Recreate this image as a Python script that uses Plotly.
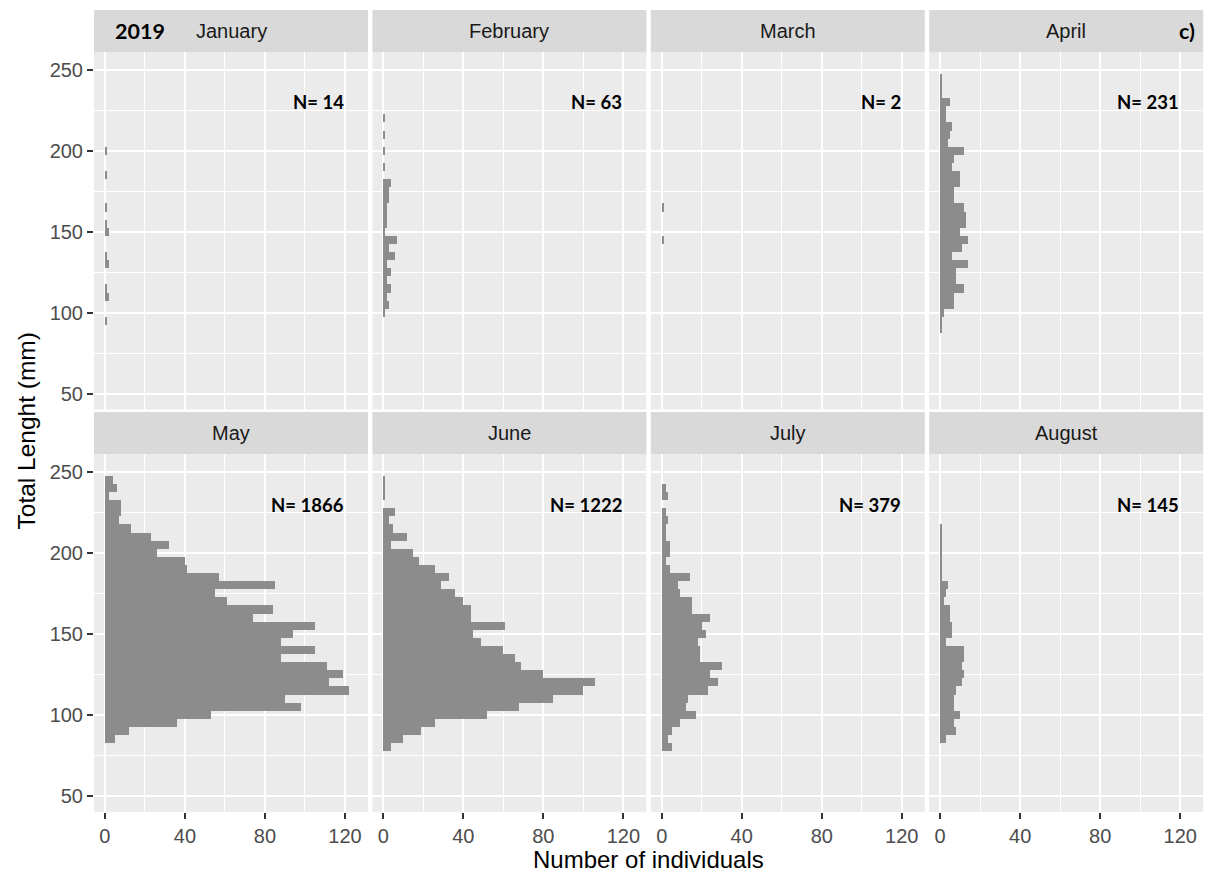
import plotly.graph_objects as go

# ---------------- data ----------------
bins = [245, 240, 235, 230, 225, 220, 215, 210, 205, 200, 195, 190, 185, 180, 175, 170, 165,
        160, 155, 150, 145, 140, 135, 130, 125, 120, 115, 110, 105, 100, 95, 90, 85, 80]

months = ["January", "February", "March", "April", "May", "June", "July", "August"]
n_labels = ["N= 14", "N= 63", "N= 2", "N= 231", "N= 1866", "N= 1222", "N= 379", "N= 145"]

jan = [0, 0, 0, 0, 0, 0, 0, 0, 0, 1, 0, 0, 1, 0, 0, 0, 1, 0, 1, 2, 0, 0, 1, 2, 0, 0, 1, 2, 0, 0, 1, 0, 0, 0]
feb = [0, 0, 0, 0, 0, 1, 0, 1, 0, 1, 0, 1, 0, 4, 3, 3, 2, 2, 2, 1, 7, 3, 6, 2, 4, 2, 4, 2, 3, 1, 0, 0, 0, 0]
mar = [0, 0, 0, 0, 0, 0, 0, 0, 0, 0, 0, 0, 0, 0, 0, 0, 1, 0, 0, 0, 1, 0, 0, 0, 0, 0, 0, 0, 0, 0, 0, 0, 0, 0]
apr = [1, 1, 1, 5, 3, 3, 6, 5, 4, 12, 7, 6, 10, 10, 7, 7, 12, 13, 13, 10, 14, 11, 6, 14, 8, 8, 12, 7, 7, 2, 1, 1, 0, 0]
may = [4, 6, 2, 8, 8, 7, 13, 23, 32, 26, 40, 41, 57, 85, 55, 61, 84, 74, 105, 94, 88, 105, 88, 111, 119, 112,
       122, 90, 98, 53, 36, 12, 5, 0]
jun = [1, 1, 1, 0, 6, 3, 5, 12, 4, 15, 18, 26, 33, 29, 36, 40, 44, 44, 61, 45, 49, 60, 66, 69, 80, 106, 100,
       85, 68, 52, 26, 19, 10, 4]
jul = [0, 2, 3, 0, 2, 3, 2, 2, 4, 4, 2, 4, 14, 8, 9, 15, 15, 24, 20, 22, 18, 19, 19, 30, 24, 28, 23, 13, 12,
       17, 9, 5, 3, 5]
aug = [0, 0, 0, 0, 0, 0, 1, 1, 1, 1, 1, 1, 1, 4, 3, 2, 5, 5, 6, 6, 3, 12, 12, 11, 12, 11, 8, 7, 7, 10, 7, 8, 3, 0]

counts = [jan, feb, mar, apr, may, jun, jul, aug]

x_ticks = [0, 40, 80, 120]
y_ticks = [50, 100, 150, 200, 250]

# ---------------- layout geometry (pixels) ----------------
W, H = 1208, 875
col_left = [94, 372.4, 650.8, 929.2]
col_w = 274
row_top = [52, 454.3]
row_h = 357.5
strip_top = [10, 412]
strip_h = 42.3

def px_x(x):
    return x / W

def px_y(y):
    return 1 - y / H

fig = go.Figure()
layout = {}
annotations = []
shapes = []

bar_color = "#8C8C8C"
sans = "Liberation Sans, Arial, sans-serif"
tick_font = dict(family=sans, size=20, color="#4D4D4D")

for i in range(8):
    r, c = divmod(i, 4)
    idx = i + 1
    xa = "x" if idx == 1 else f"x{idx}"
    ya = "y" if idx == 1 else f"y{idx}"
    fig.add_trace(go.Bar(
        x=counts[i], y=bins, orientation="h", width=5,
        marker=dict(color=bar_color, line=dict(width=0)),
        xaxis=xa, yaxis=ya, showlegend=False, hoverinfo="x+y",
    ))
    x0 = col_left[c]
    y0 = row_top[r]
    xkey = "xaxis" if idx == 1 else f"xaxis{idx}"
    ykey = "yaxis" if idx == 1 else f"yaxis{idx}"
    layout[xkey] = dict(
        domain=[px_x(x0), px_x(x0 + col_w)], anchor=ya,
        range=[-5.45, 131.5], tickvals=x_ticks,
        showticklabels=(r == 1), ticks="outside" if r == 1 else "",
        ticklen=6, tickwidth=1.5, tickcolor="#333333",
        tickfont=tick_font,
        showgrid=True, gridcolor="white", gridwidth=2,
        zeroline=False, showline=False,
        minor=dict(tick0=0, dtick=20, showgrid=True, gridcolor="white", gridwidth=1, ticks=""),
    )
    layout[ykey] = dict(
        domain=[px_y(y0 + row_h), px_y(y0)], anchor=xa,
        range=[40.3, 261], tickvals=y_ticks,
        showticklabels=(c == 0), ticks="outside" if c == 0 else "",
        ticklen=6, tickwidth=1.5, tickcolor="#333333",
        tickfont=tick_font,
        showgrid=True, gridcolor="white", gridwidth=2,
        zeroline=False, showline=False,
        minor=dict(tick0=0, dtick=25, showgrid=True, gridcolor="white", gridwidth=1, ticks=""),
    )
    # strip
    shapes.append(dict(
        type="rect", xref="paper", yref="paper",
        x0=px_x(x0), x1=px_x(x0 + col_w),
        y0=px_y(strip_top[r] + strip_h), y1=px_y(strip_top[r]),
        fillcolor="#D9D9D9", line=dict(width=0), layer="below",
    ))
    annotations.append(dict(
        text=months[i], xref="paper", yref="paper",
        x=px_x(x0 + col_w / 2), y=px_y(strip_top[r] + strip_h / 2),
        xanchor="center", yanchor="middle", showarrow=False,
        font=dict(family=sans, size=20, color="#1A1A1A"),
    ))
    # N label
    annotations.append(dict(
        text=f"<b>{n_labels[i]}</b>", xref=xa, yref=ya,
        x=120.5, y=230, xanchor="right", yanchor="middle", showarrow=False,
        font=dict(family="Lato, Open Sans, sans-serif", size=18.5, color="#000000"),
    ))

# extra labels
annotations.append(dict(
    text="<b>2019</b>", xref="paper", yref="paper", x=px_x(140), y=px_y(31),
    xanchor="center", yanchor="middle", showarrow=False,
    font=dict(family="Lato, Open Sans, sans-serif", size=21.5, color="#000000"),
))
annotations.append(dict(
    text="<b>c)</b>", xref="paper", yref="paper", x=px_x(1187), y=px_y(31),
    xanchor="center", yanchor="middle", showarrow=False,
    font=dict(family="Lato, Open Sans, sans-serif", size=21.5, color="#000000"),
))
# axis titles
annotations.append(dict(
    text="Number of individuals", xref="paper", yref="paper", x=px_x(648.6), y=0,
    xanchor="center", yanchor="bottom", showarrow=False,
    font=dict(family=sans, size=24, color="#000000"),
))
annotations.append(dict(
    text="Total Lenght (mm)", xref="paper", yref="paper", x=px_x(26), y=px_y(431.5),
    xanchor="center", yanchor="middle", showarrow=False, textangle=-90,
    font=dict(family=sans, size=24.5, color="#000000"),
))

fig.update_layout(
    width=W, height=H,
    margin=dict(l=0, r=0, t=0, b=0),
    paper_bgcolor="white", plot_bgcolor="#EBEBEB",
    bargap=0, barmode="overlay",
    annotations=annotations, shapes=shapes,
    **layout,
)

fig.write_html(
    "out.html",
    config={"displayModeBar": False},
    post_script="document.body.style.margin='0';document.body.style.padding='0';",
)
